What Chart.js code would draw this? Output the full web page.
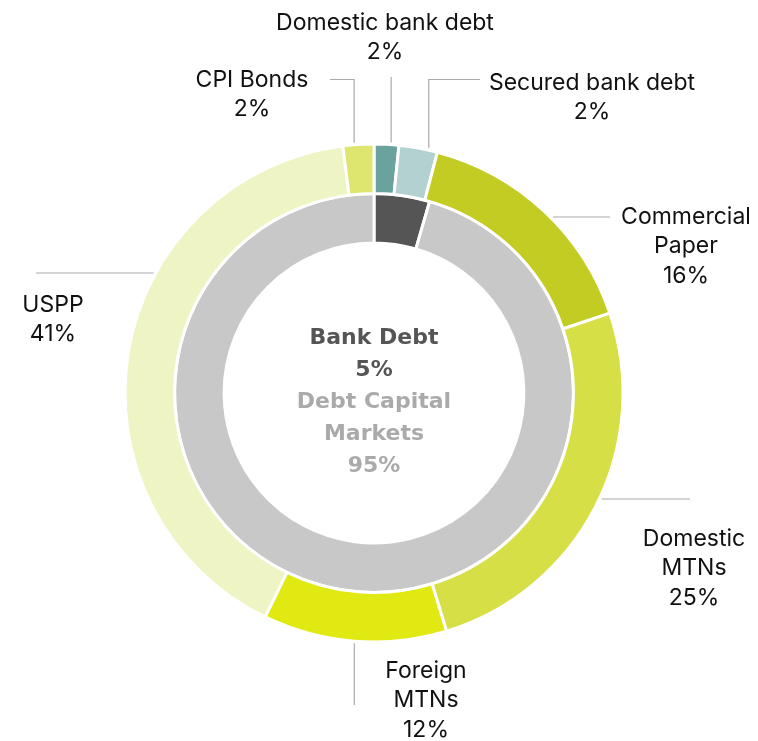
<!DOCTYPE html>
<html>
<head>
<meta charset="utf-8">
<script src="https://cdn.jsdelivr.net/npm/chart.js"></script>
<style>
  html, body { margin: 0; padding: 0; background: #fff; }
  #wrap { width: 758px; height: 741px; }
</style>
</head>
<body>
<div id="wrap"><canvas id="chart-block" width="758" height="741"></canvas></div>
<script>
// outer ring: instruments (share of debt)
const outerLabels = ['Domestic bank debt', 'Secured bank debt', 'Commercial Paper', 'Domestic MTNs', 'Foreign MTNs', 'USPP', 'CPI Bonds'];
const outerValues = [1.6, 2.5, 15.7, 25.5, 11.9, 40.8, 2.0];
const outerPct = ['2%', '2%', '16%', '25%', '12%', '41%', '2%'];
const outerColors = ['#6aa39d', '#b3d1d0', '#c3cc22', '#d6df45', '#e1e912', '#eff4c4', '#dfe670'];

// inner ring: bank debt vs debt capital markets
const innerLabels = ['Bank Debt', 'Debt Capital Markets'];
const innerValues = [4.5, 95.5];
const innerPct = ['5%', '95%'];
const innerColors = ['#555555', '#c8c8c8'];

// where each outer label sits and how its leader runs
const labelLayout = [
  { lines: ['Domestic bank debt'], x: 385, y: 23, leader: { type: 'v', frac: 0.68, y0: 77 } },
  { lines: ['Secured bank debt'], x: 592, y: 83, leader: { type: 'v', frac: 0.76, y0: 79.5, tail: 480 } },
  { lines: ['Commercial', 'Paper'], x: 686, y: 217, leader: { type: 'h', y0: 217, x1: 610 } },
  { lines: ['Domestic', 'MTNs'], x: 694, y: 539, leader: { type: 'h', y0: 499, x1: 690 } },
  { lines: ['Foreign', 'MTNs'], x: 426, y: 671, leader: { type: 'v', frac: 0.5, y0: 705 } },
  { lines: ['USPP'], x: 53, y: 305, leader: { type: 'h', y0: 273, x1: 36 } },
  { lines: ['CPI Bonds'], x: 252, y: 80, leader: { type: 'v', frac: 0.37, y0: 79.5, tail: 330 } }
];

const sliceLabels = {
  id: 'sliceLabels',
  afterDraw(chart) {
    const ctx = chart.ctx;
    const arcs = chart.getDatasetMeta(0).data;
    const lh = 29.5;
    ctx.save();
    ctx.strokeStyle = '#aaaaaa';
    ctx.lineWidth = 1.2;
    labelLayout.forEach((lab, i) => {
      const arc = arcs[i];
      const p = arc.getProps(['x', 'y', 'startAngle', 'endAngle', 'outerRadius']);
      const L = lab.leader;
      const R = p.outerRadius + 2;
      ctx.beginPath();
      if (L.type === 'v') {
        const a = p.startAngle + L.frac * (p.endAngle - p.startAngle);
        const ax = p.x + R * Math.cos(a);
        const ay = p.y + R * Math.sin(a);
        if (L.tail !== undefined) {
          ctx.moveTo(L.tail, L.y0);
          ctx.lineTo(ax, L.y0);
        } else {
          ctx.moveTo(ax, L.y0);
        }
        ctx.lineTo(ax, ay);
      } else {
        const mid = (p.startAngle + p.endAngle) / 2;
        const side = Math.cos(mid) >= 0 ? 1 : -1;
        const dy = L.y0 - p.y;
        const dx = Math.sqrt(Math.max(R * R - dy * dy, 0));
        ctx.moveTo(L.x1, L.y0);
        ctx.lineTo(p.x + side * dx, L.y0);
      }
      ctx.stroke();

      ctx.fillStyle = '#111111';
      ctx.font = '23px Inter, "Noto Sans", sans-serif';
      ctx.textAlign = 'center';
      ctx.textBaseline = 'middle';
      const lines = lab.lines.concat([outerPct[i]]);
      lines.forEach((t, k) => ctx.fillText(t, lab.x, lab.y + k * lh));
    });

    // centre text
    const c = arcs[0].getProps(['x', 'y']);
    const centre = [
      { t: innerLabels[0], col: '#555555' },
      { t: innerPct[0], col: '#555555' },
      { t: 'Debt Capital', col: '#aaaaaa' },
      { t: 'Markets', col: '#aaaaaa' },
      { t: innerPct[1], col: '#aaaaaa' }
    ];
    ctx.font = 'bold 22px "DejaVu Sans", sans-serif';
    centre.forEach((row, k) => {
      ctx.fillStyle = row.col;
      ctx.fillText(row.t, c.x, c.y - 55 + k * 32);
    });
    ctx.restore();
  }
};

const ctx = document.getElementById('chart-block').getContext('2d');
new Chart(ctx, {
  type: 'doughnut',
  data: {
    labels: outerLabels,
    datasets: [
      {
        label: 'Instrument',
        data: outerValues,
        backgroundColor: outerColors,
        borderColor: '#ffffff',
        borderWidth: 3
      },
      {
        label: 'Source',
        data: innerValues,
        backgroundColor: innerColors,
        borderColor: '#ffffff',
        borderWidth: 3
      }
    ]
  },
  options: {
    responsive: false,
    animation: false,
    devicePixelRatio: 1,
    radius: 249,
    cutout: '60.2%',
    layout: { padding: { left: 125, right: 135, top: 144, bottom: 99 } },
    plugins: {
      legend: { display: false },
      tooltip: { enabled: false }
    }
  },
  plugins: [sliceLabels]
});
</script>
</body>
</html>
